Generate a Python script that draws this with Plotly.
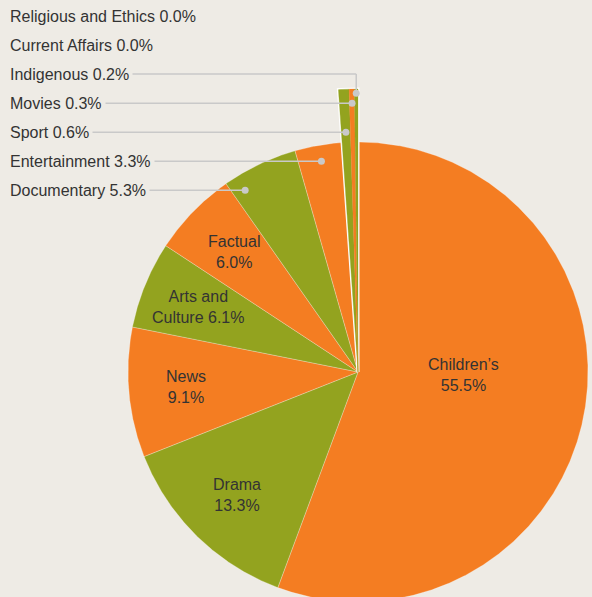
import math
import plotly.graph_objects as go

# ---------------- data ----------------
categories = ["Children’s", "Drama", "News", "Arts and Culture", "Factual", "Documentary",
              "Entertainment", "Sport", "Movies", "Indigenous", "Current Affairs",
              "Religious and Ethics"]
shares = [55.5, 13.3, 9.1, 6.1, 6.0, 5.3, 3.3, 0.6, 0.3, 0.2, 0.0, 0.0]
# how the in-slice labels wrap
inside_wrap = {"Arts and Culture": "Arts and<br>Culture {v}%"}

# ---------------- style / layout ----------------
W, H = 592, 597
CX, CY = 358, 372          # pie centre in pixels from top-left
R = 230                    # main radius (px)
R_BIG = 283                # radius used for tiny slices
TINY = 1.0                 # slices below this share are drawn with R_BIG
OUTSIDE = 5.5              # slices below this share get outside labels
DOT_R = 0.93               # preferred leader-dot radius (fraction of slice radius)
ORANGE = "#F47D22"
GREEN = "#93A31F"
BG = "#EEEBE5"
TEXT = "#333333"
LEADER = "#C9C9C9"
FONT = "Liberation Sans, Arial, sans-serif"
ROW0, ROW_STEP, LABEL_X = 16, 29.05, 8

colors = [ORANGE if i % 2 == 0 else GREEN for i in range(len(categories))]
total = sum(shares)


def pt(theta, r):
    a = math.radians(theta)
    return r * math.sin(a), r * math.cos(a)


def wedge(t0, t1, r):
    n = max(2, int((t1 - t0) / 0.25) + 2)
    xs, ys = [0.0], [0.0]
    for k in range(n):
        x, y = pt(t0 + (t1 - t0) * k / (n - 1), r)
        xs.append(x)
        ys.append(y)
    xs.append(0.0)
    ys.append(0.0)
    return xs, ys


starts, ends = [], []
acc = 0.0
for v in shares:
    starts.append(acc / total * 360)
    acc += v
    ends.append(acc / total * 360)

fig = go.Figure()

# main slices
for i, v in enumerate(shares):
    if v <= 0 or v < TINY:
        continue
    xs, ys = wedge(starts[i], ends[i], R)
    fig.add_trace(go.Scatter(x=xs, y=ys, mode="lines", fill="toself",
                             fillcolor=colors[i],
                             line=dict(color="rgba(255,255,255,0.45)", width=0.6),
                             hoverinfo="skip", showlegend=False))

# tiny slices: white outline for the group, then each slice
tiny_idx = [i for i, v in enumerate(shares) if v < TINY]
if tiny_idx:
    g0 = min(starts[i] for i in tiny_idx)
    g1 = max(ends[i] for i in tiny_idx)
    xs, ys = wedge(g0, g1, R_BIG)
    fig.add_trace(go.Scatter(x=xs, y=ys, mode="lines", fill="toself",
                             fillcolor="white", line=dict(color="white", width=3),
                             hoverinfo="skip", showlegend=False))
    for i in tiny_idx:
        if shares[i] <= 0:
            continue
        xs, ys = wedge(starts[i], ends[i], R_BIG)
        fig.add_trace(go.Scatter(x=xs, y=ys, mode="lines", fill="toself",
                                 fillcolor=colors[i], line=dict(color=colors[i], width=0.3),
                                 hoverinfo="skip", showlegend=False))

annotations = []

# inside labels
big = max(range(len(shares)), key=lambda i: shares[i])
for i, v in enumerate(shares):
    if v < OUTSIDE:
        continue
    vs = f"{v:.1f}"
    txt = inside_wrap.get(categories[i], "{name}<br>{v}%").format(name=categories[i], v=vs)
    if i == big:
        x, y = pt(91.5, 0.46 * R)
    else:
        x, y = pt((starts[i] + ends[i]) / 2, 0.75 * R)
    annotations.append(dict(x=x, y=y, xref="x", yref="y", text=txt, showarrow=False,
                            font=dict(family=FONT, size=16, color=TEXT),
                            xanchor="center", yanchor="middle"))

# outside labels with leaders
outs = [i for i, v in enumerate(shares) if v < OUTSIDE]
outs.reverse()
dots_x, dots_y = [], []
for k, i in enumerate(outs):
    v = shares[i]
    row_y = CY - (ROW0 + ROW_STEP * k)
    lx = LABEL_X - CX
    txt = f"{categories[i]} {v:.1f}%"
    font = dict(family=FONT, size=16, color=TEXT)
    if v <= 0:
        annotations.append(dict(x=lx, y=row_y, xref="x", yref="y", text=txt,
                                showarrow=False, xanchor="left", yanchor="middle", font=font))
        continue
    th = (starts[i] + ends[i]) / 2
    r_out = R_BIG if v < TINY else R
    placed = False
    rd = DOT_R * r_out
    if abs(row_y) <= rd:
        ang = 360 - math.degrees(math.acos(row_y / rd))
        if starts[i] <= ang <= ends[i]:
            dx, dy = pt(ang, rd)
            hx, hy = dx, dy
            placed = True
    if not placed:
        r_need = row_y / math.cos(math.radians(th))
        if r_need <= 0.97 * r_out:
            dx, dy = pt(th, r_need)
            hx, hy = dx, dy
        else:
            dx, dy = pt(th, 0.985 * r_out)
            hx, hy = dx, row_y
            fig.add_trace(go.Scatter(x=[hx, dx], y=[hy, dy], mode="lines",
                                     line=dict(color=LEADER, width=1.5),
                                     hoverinfo="skip", showlegend=False))
    dots_x.append(dx)
    dots_y.append(dy)
    annotations.append(dict(x=hx, y=hy, xref="x", yref="y", ax=lx, ay=row_y,
                            axref="x", ayref="y", text=txt, showarrow=True,
                            arrowhead=0, arrowwidth=1.5, arrowcolor=LEADER,
                            standoff=0, startstandoff=2,
                            xanchor="left", yanchor="middle", font=font))

fig.add_trace(go.Scatter(x=dots_x, y=dots_y, mode="markers",
                         marker=dict(color=LEADER, size=7),
                         hoverinfo="skip", showlegend=False))

fig.update_layout(
    width=W, height=H, margin=dict(l=0, r=0, t=0, b=0),
    paper_bgcolor=BG, plot_bgcolor=BG,
    xaxis=dict(range=[-CX, W - CX], visible=False, fixedrange=True),
    yaxis=dict(range=[-(H - CY), CY], visible=False, fixedrange=True),
    annotations=annotations, showlegend=False,
)
fig.write_html("out.html", config={"displayModeBar": False})
